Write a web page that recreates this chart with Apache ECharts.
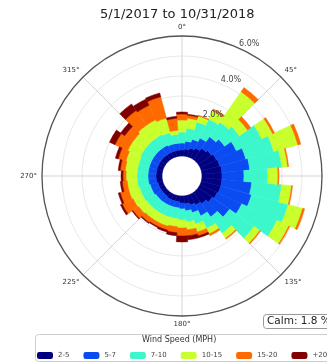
<!DOCTYPE html>
<html>
<head>
<meta charset="utf-8">
<script src="https://cdn.jsdelivr.net/npm/echarts@6/dist/echarts.min.js"></script>
<style>
  html, body { margin: 0; padding: 0; background: #fff; }
  #chart { width: 327px; height: 363px; }
</style>
</head>
<body>
<div id="chart"></div>
<script>
// wind direction sectors, degrees clockwise from north
const directions = ['0', '10', '20', '30', '40', '50', '60', '70', '80', '90', '100', '110',
  '120', '130', '140', '150', '160', '170', '180', '190', '200', '210', '220', '230',
  '240', '250', '260', '270', '280', '290', '300', '310', '320', '330', '340', '350']

const speedBins = ['2-5', '5-7', '7-10', '10-15', '15-20', '+20']
const binColors = ['#000080', '#0a4cf2', '#3cf7cc', '#caff2e', '#ff6a00', '#800000']

// percent of time per sector, one array per speed bin
const speed2to5 = [0.30, 0.35, 0.45, 0.55, 0.70, 0.80, 0.90, 0.95, 1.00, 1.00, 1.00, 1.00,
  0.95, 0.85, 0.70, 0.60, 0.50, 0.40, 0.35, 0.30, 0.30, 0.30, 0.25, 0.25,
  0.25, 0.25, 0.30, 0.30, 0.30, 0.30, 0.30, 0.30, 0.30, 0.30, 0.30, 0.30]
const speed5to7 = [0.35, 0.40, 0.45, 0.55, 0.70, 0.80, 1.10, 1.35, 1.40, 1.10, 1.50, 1.60,
  1.35, 1.05, 0.80, 0.60, 0.40, 0.35, 0.30, 0.30, 0.30, 0.30, 0.35, 0.35,
  0.40, 0.40, 0.40, 0.40, 0.40, 0.40, 0.40, 0.40, 0.40, 0.40, 0.35, 0.35]
const speed7to10 = [0.55, 0.65, 0.90, 1.05, 0.90, 0.90, 1.40, 1.45, 1.60, 1.20, 1.50, 1.90,
  1.95, 1.50, 1.00, 0.70, 0.60, 0.55, 0.55, 0.55, 0.55, 0.55, 0.55, 0.55,
  0.55, 0.55, 0.55, 0.55, 0.55, 0.55, 0.60, 0.60, 0.60, 0.60, 0.60, 0.45]
const speed10to15 = [0.60, 0.50, 0.30, 0.45, 1.85, 0.50, 0.60, 1.25, 0.30, 0.50, 0.50, 0.75,
  0.65, 0.35, 0.30, 0.30, 0.40, 0.40, 0.40, 0.40, 0.45, 0.45, 0.45, 0.50,
  0.50, 0.55, 0.50, 0.55, 0.60, 0.65, 0.70, 0.70, 0.80, 0.80, 0.75, 0.20]
const speed15to20 = [0.30, 0.15, 0.05, 0.10, 0.25, 0.20, 0.10, 0.15, 0.05, 0.05, 0.05, 0.10,
  0.05, 0.05, 0.05, 0.10, 0.20, 0.30, 0.40, 0.30, 0.20, 0.20, 0.25, 0.35,
  0.60, 0.45, 0.25, 0.15, 0.25, 0.40, 0.70, 0.50, 0.90, 0.80, 1.10, 0.60]
const speed20plus = [0.10, 0.05, 0, 0, 0, 0, 0, 0, 0, 0, 0, 0,
  0, 0, 0, 0, 0.10, 0.20, 0.30, 0.15, 0.10, 0.05, 0.05, 0.05,
  0.10, 0.10, 0.10, 0.10, 0.10, 0.15, 0.30, 0.25, 0.40, 0.35, 0.20, 0.10]

const radiusLabels = [2, 4, 6]
const calmPercent = 1.8

const binValues = [speed2to5, speed5to7, speed7to10, speed10to15, speed15to20, speed20plus]

const chart = echarts.init(document.getElementById('chart'), null, { renderer: 'canvas' })
const center = [182, 176]
const font = 'DejaVu Sans'

const barSeries = speedBins.map((name, i) => ({
  name: name,
  type: 'bar',
  coordinateSystem: 'polar',
  polarIndex: 0,
  stack: 'wind',
  barCategoryGap: '0%',
  // thin same-colour edge hides hairline seams between sectors
  itemStyle: { color: binColors[i], borderColor: binColors[i], borderWidth: 0.5 },
  emphasis: { disabled: true },
  // empty sectors drawn as nothing, so their edge does not leave a stray arc
  data: binValues[i].map(v => (v > 0 ? v : '-'))
}))

const options = {
  animation: false,
  title: [
    {
      text: '5/1/2017 to 10/31/2018',
      left: 95,
      top: 3,
      textStyle: { fontFamily: font, fontSize: 13, fontWeight: 'normal', color: '#222' }
    },
    {
      text: 'Calm: ' + calmPercent + ' %',
      left: 263,
      top: 314,
      padding: [2, 4, 2, 4],
      borderColor: '#999',
      borderWidth: 1,
      borderRadius: 3,
      backgroundColor: '#fff',
      textStyle: { fontFamily: font, fontSize: 10.5, fontWeight: 'normal', color: '#222' }
    },
    {
      text: 'Wind Speed (MPH)',
      left: 142,
      top: 336,
      padding: 0,
      z: 10,
      textStyle: { fontFamily: font, fontSize: 8, fontWeight: 'normal', color: '#333' }
    }
  ],
  graphic: [
    {
      type: 'rect',
      z: 5,
      shape: { x: 35.5, y: 334.5, width: 300, height: 27, r: 3 },
      style: { fill: '#fff', stroke: '#ccc', lineWidth: 1 }
    }
  ],
  legend: {
    data: speedBins,
    left: 37,
    top: 352,
    width: 300,
    z: 10,
    itemWidth: 14,
    itemHeight: 5,
    itemGap: 14,
    icon: 'roundRect',
    padding: 0,
    textStyle: { fontFamily: font, fontSize: 7, color: '#444', padding: [0, 0, 0, 1] }
  },
  polar: [
    { center: center, radius: 140 },
    { center: center, radius: 140 },
    { center: center, radius: 148 }
  ],
  angleAxis: [
    {
      polarIndex: 0,
      type: 'category',
      data: directions,
      startAngle: 95,
      clockwise: true,
      axisLine: { show: false },
      axisTick: { show: false },
      axisLabel: { show: false },
      splitLine: { show: false }
    },
    {
      polarIndex: 1,
      type: 'value',
      min: 0,
      max: 360,
      interval: 45,
      startAngle: 90,
      clockwise: true,
      axisLine: { show: true, lineStyle: { color: '#555', width: 1.3 } },
      axisTick: { show: false },
      axisLabel: {
        margin: 5,
        fontFamily: font,
        fontSize: 7,
        color: '#333',
        formatter: v => (v === 360 ? '' : v + '°')
      },
      splitLine: { show: true, lineStyle: { color: '#c8c8c8', width: 0.8 } }
    },
    {
      polarIndex: 2,
      type: 'value',
      min: 0,
      max: 360,
      startAngle: 63,
      show: false
    }
  ],
  radiusAxis: [
    {
      polarIndex: 0,
      type: 'value',
      min: -1,
      max: 6,
      show: false
    },
    {
      polarIndex: 1,
      type: 'value',
      min: -1,
      max: 6,
      interval: 1,
      axisLine: { show: false },
      axisTick: { show: false },
      axisLabel: { show: false },
      splitLine: { show: true, lineStyle: { color: '#e2e2e2', width: 0.8 } }
    },
    {
      // offset copy of the radial scale so the % labels sit just outside their rings
      polarIndex: 2,
      type: 'value',
      min: -1.4,
      max: 6,
      z: 10,
      axisLine: { show: false },
      axisTick: { show: false },
      splitLine: { show: false },
      axisLabel: {
        customValues: radiusLabels,
        margin: 0,
        align: 'center',
        verticalAlign: 'middle',
        fontFamily: font,
        fontSize: 8,
        color: '#444',
        formatter: v => v.toFixed(1) + '%'
      }
    }
  ],
  series: [
    {
      name: 'calm',
      type: 'pie',
      center: center,
      radius: [0, 19],
      silent: true,
      label: { show: false },
      labelLine: { show: false },
      itemStyle: { color: '#fff' },
      data: [calmPercent]
    }
  ].concat(barSeries)
}

chart.setOption(options)
</script>
</body>
</html>
